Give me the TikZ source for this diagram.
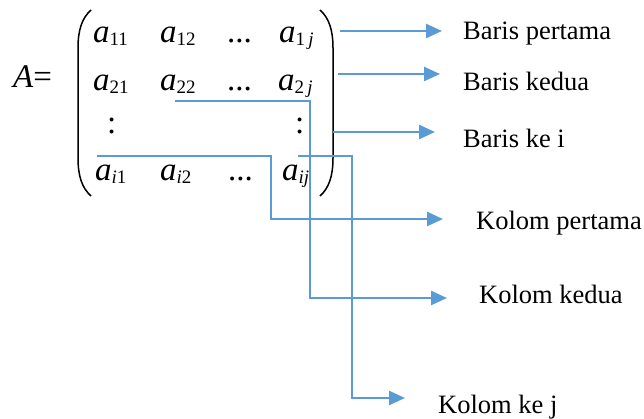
\documentclass[tikz,border=0pt]{standalone}
\usepackage{fontspec}
\setmainfont{Liberation Serif}
\usetikzlibrary{arrows.meta}
\definecolor{lineblue}{RGB}{91,155,213}
\newcommand{\mfont}{\fontsize{33}{38}\selectfont}
\newcommand{\sfnt}{\fontsize{19}{22}\selectfont}
\newcommand{\ent}[1]{\mfont\textit{a}\raisebox{-3pt}{\sfnt #1}}
\begin{document}
\begin{tikzpicture}[x=1pt,y=-1pt,
  entry/.style={inner sep=0pt,anchor=base west},
  lbl/.style={inner sep=0pt,anchor=base west,font=\fontsize{26.5}{31}\selectfont},
  conn/.style={draw=lineblue,line width=2.5pt,-{Triangle[length=16pt,width=14pt]}},
  paren/.style={draw=black,line width=1.5pt}]
\useasboundingbox (0,0) rectangle (644,419);
% A=
\node[entry] (A) at (13,88) {\mfont\textit{A}=};
% entries
\node[entry] (e11) at (93,43) {\ent{11}};
\node[entry] (e12) at (160,43) {\ent{12}};
\node[entry] (d1) at (227,43) {\mfont...};
\node[entry] (e1j) at (279,43) {\ent{1\,\textit{j}}};
\node[entry] (e21) at (93,91) {\ent{21}};
\node[entry] (e22) at (160,91) {\ent{22}};
\node[entry] (d2) at (227,91) {\mfont...};
\node[entry] (e2j) at (278,91) {\ent{2\,\textit{j}}};
\node[entry] (c1) at (107,134) {\mfont:};
\node[entry] (c2) at (295,134) {\mfont:};
\node[entry] (ei1) at (95,181) {\ent{\textit{i}1}};
\node[entry] (ei2) at (160,181) {\ent{\textit{i}2}};
\node[entry] (d4) at (228,181) {\mfont...};
\node[entry] (eij) at (282,181) {\ent{\textit{ij}}};
% parentheses
\path[paren] (91,10) .. controls (82,18) and (78,30) .. (78,48) -- (78,158) .. controls (78,176) and (82,188) .. (91,196);
\path[paren] (320,10) .. controls (329,18) and (333,30) .. (333,48) -- (333,158) .. controls (333,176) and (329,188) .. (320,196);
% labels
\node[lbl] (L1) at (463,40) {Baris pertama};
\node[lbl] (L2) at (463,91) {Baris kedua};
\node[lbl] (L3) at (463,148) {Baris ke i};
\node[lbl] (L4) at (476,230) {Kolom pertama};
\node[lbl] (L5) at (479,303) {Kolom kedua};
\node[lbl] (L6) at (438,413) {Kolom ke j};
% connector coordinates
\coordinate (s1) at (340,31);  \coordinate (t1) at (442,31);
\coordinate (s2) at (338,74);  \coordinate (t2) at (440,74);
\coordinate (s3) at (333,132); \coordinate (t3) at (435,132);
\coordinate (s4) at (97,156);  \coordinate (t4) at (443,219);
\coordinate (s5) at (175,101); \coordinate (t5) at (447,298);
\coordinate (s6) at (298,156); \coordinate (t6) at (405,398);
\draw[conn] (s1) -- (t1);
\draw[conn] (s2) -- (t2);
\draw[conn] (s3) -- (t3);
\draw[conn] (s4) -- (271,156) -- (271,219) -- (t4);
\draw[conn] (s5) -- (310,101) -- (310,298) -- (t5);
\draw[conn] (s6) -- (352,156) -- (352,398) -- (t6);
\end{tikzpicture}
\end{document}
